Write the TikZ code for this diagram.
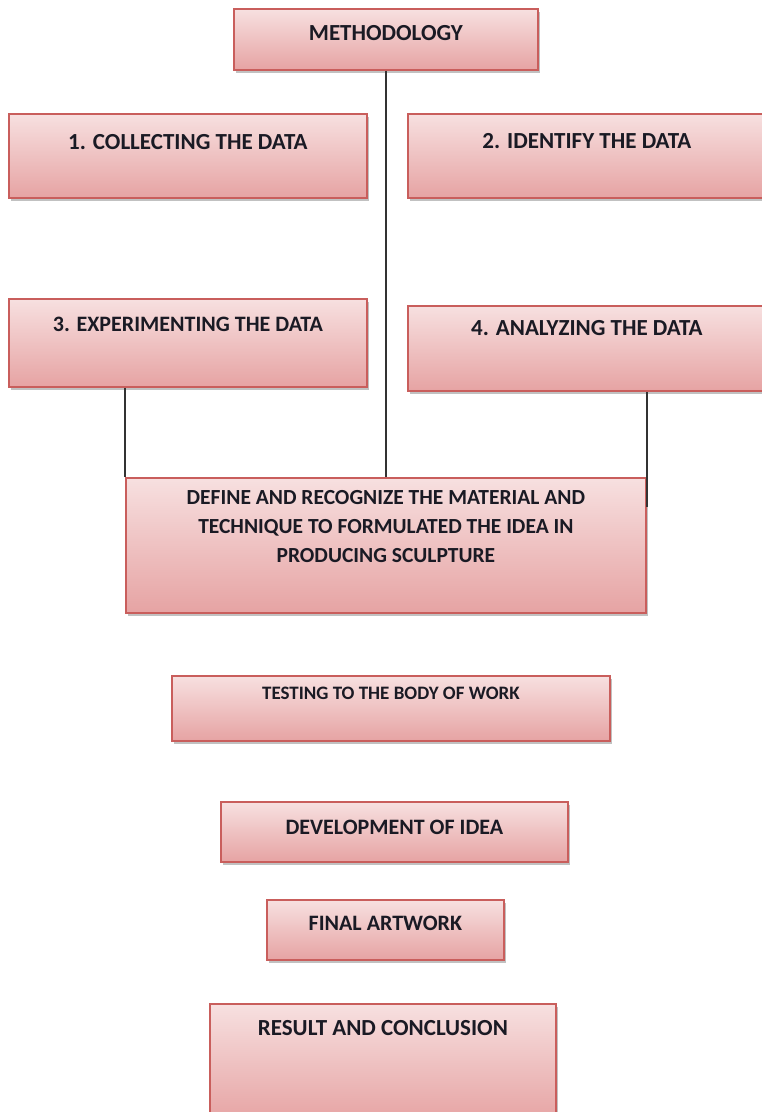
\documentclass[tikz,border=0pt]{standalone}
\usepackage{fontspec}
\setmainfont{Carlito}
\usetikzlibrary{shadows}
\definecolor{boxtop}{HTML}{F7E0E0}
\definecolor{boxbot}{HTML}{E6A3A3}
\definecolor{boxline}{HTML}{C95E5C}
\definecolor{textdark}{HTML}{1A1A24}
\definecolor{linegrey}{HTML}{333333}
\tikzset{
  box/.style={draw=boxline, line width=1.8pt, top color=boxtop, bottom color=boxbot,
    drop shadow={shadow xshift=2pt, shadow yshift=-3pt, opacity=0.35, fill=black!70},
    anchor=north west, inner sep=0pt},
  lbl/.style={font=\bfseries\fontsize{23}{29}\selectfont, text=textdark, align=center, inner sep=0pt},
  mid/.style={font=\bfseries\fontsize{22}{28}\selectfont},
  deftext/.style={font=\bfseries\fontsize{21.5}{29}\selectfont},
  small/.style={font=\bfseries\fontsize{19}{24}\selectfont},
  link/.style={draw=linegrey, line width=1.8pt}
}
\begin{document}
\begin{tikzpicture}[x=1pt,y=-1pt]
\useasboundingbox (0,0) rectangle (761,1112);

% boxes
\node[box, minimum width=304pt, minimum height=61pt]  (meth) at (233,8)   {};
\node[box, minimum width=358pt, minimum height=84pt]  (b1)   at (8,113)   {};
\node[box, minimum width=358pt, minimum height=84pt]  (b2)   at (407,113) {};
\node[box, minimum width=358pt, minimum height=88pt]  (b3)   at (8,298)   {};
\node[box, minimum width=358pt, minimum height=85pt]  (b4)   at (407,305) {};
\node[box, minimum width=520pt, minimum height=135pt] (def)  at (125,477) {};
\node[box, minimum width=438pt, minimum height=65pt]  (test) at (171,675) {};
\node[box, minimum width=347pt, minimum height=60pt]  (dev)  at (220,801) {};
\node[box, minimum width=237pt, minimum height=60pt]  (fin)  at (266,899) {};
\node[box, minimum width=346pt, minimum height=118pt] (res)  at (209,1003) {};

% labels
\node[lbl] (methT) at ([yshift=-25pt]meth.north) {METHODOLOGY};
\node[lbl] (b1T)   at ([yshift=-29pt]b1.north)   {1. COLLECTING THE DATA};
\node[lbl] (b2T)   at ([yshift=-28pt]b2.north)   {2. IDENTIFY THE DATA};
\node[lbl, mid] (b3T) at ([yshift=-26pt]b3.north) {3. EXPERIMENTING THE DATA};
\node[lbl] (b4T)   at ([yshift=-23pt]b4.north)   {4. ANALYZING THE DATA};
\node[lbl, deftext, anchor=north] (defT) at ([yshift=-13pt]def.north)
  {DEFINE AND RECOGNIZE THE MATERIAL AND\\TECHNIQUE TO FORMULATED THE IDEA IN\\PRODUCING SCULPTURE};
\node[lbl, small] (testT) at ([yshift=-18pt]test.north) {TESTING TO THE BODY OF WORK};
\node[lbl, mid] (devT) at ([yshift=-26pt]dev.north) {DEVELOPMENT OF IDEA};
\node[lbl, mid] (finT) at ([yshift=-24pt]fin.north) {FINAL ARTWORK};
\node[lbl] (resT)  at ([yshift=-25pt]res.north)  {RESULT AND CONCLUSION};

% connectors
\coordinate (rtail) at ([yshift=-30pt]def.north east);
\draw[link] (meth.south) -- (meth.south |- def.north);
\draw[link] (b3.south -| def.north west) -- (def.north west);
\draw[link] (b4.south -| def.north east) -- (rtail);
\end{tikzpicture}
\end{document}
